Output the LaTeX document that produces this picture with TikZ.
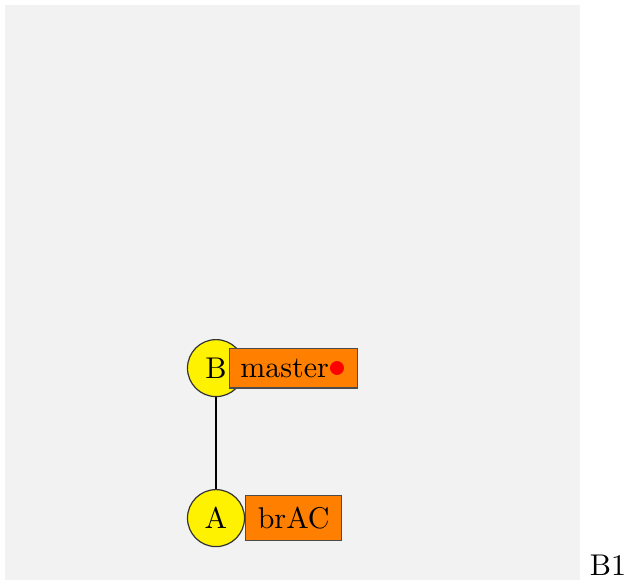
\documentclass[tikz,border=0pt]{standalone}
\usepackage{xcolor}
\usepackage{tikz}
\usetikzlibrary{positioning}
\definecolor{bggray}{RGB}{242,242,242}
\definecolor{commityellow}{RGB}{255,242,0}
\definecolor{branchorange}{RGB}{255,128,0}
\tikzstyle{commit} = [circle, minimum size=19pt, inner sep=0pt, fill=commityellow, draw=black!80]
\tikzstyle{branch} = [rectangle, inner sep=2pt, fill=branchorange, draw=black!70]
\tikzstyle{edge} = [thin, draw=black]

\begin{document}
\begin{tikzpicture}[node distance=50pt]
	\useasboundingbox (0,0) rectangle (210pt,194pt);
	\fill [bggray] (1.7pt,0.7pt) rectangle (193.3pt,192.3pt);

	\node (B) [commit] at (72pt,71.3pt) {B};
	\node (A) [commit, below of=B] {A};
	\node (master) [branch, anchor=west, minimum width=42.8pt, minimum height=13.3pt, xshift=-5.4pt] at (B.east) {master\textcolor{red}{\large$\bullet$}};
	\node (brAC) [branch, anchor=west, minimum width=32pt, minimum height=15pt] at (A.east) {brAC};
	\node (sheet) [anchor=base] at (202.7pt,2.3pt) {B1};

	\draw [edge] (B) -- (A);
\end{tikzpicture}
\end{document}
